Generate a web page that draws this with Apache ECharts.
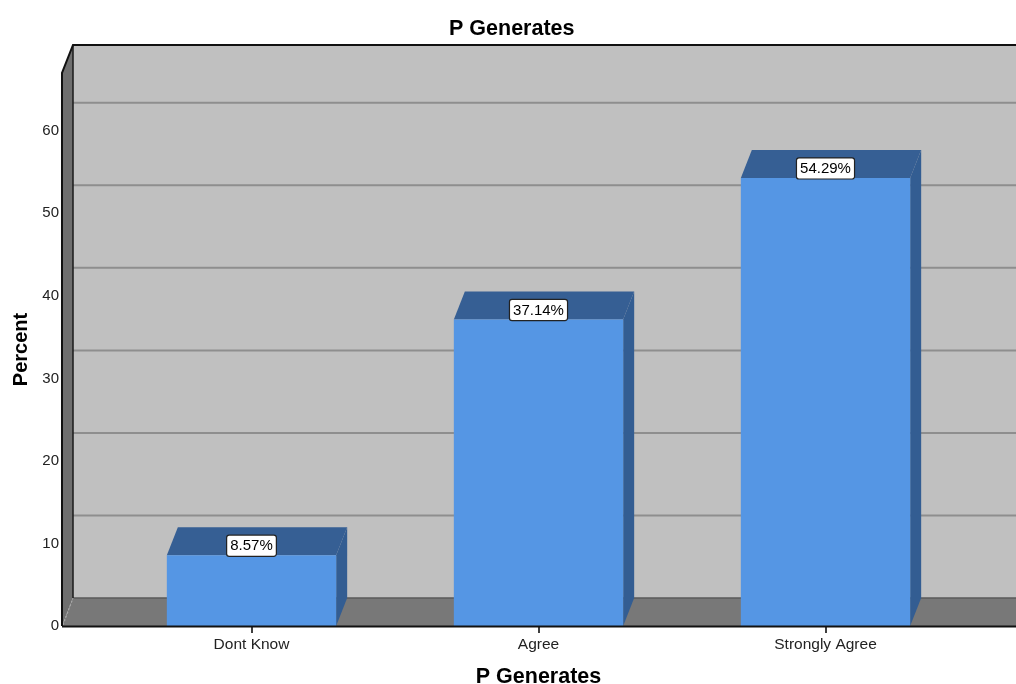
<!DOCTYPE html>
<html>
<head>
<meta charset="utf-8">
<script src="https://cdn.jsdelivr.net/npm/echarts@6/dist/echarts.min.js"></script>
<style>
  html, body { margin: 0; padding: 0; background: #ffffff; overflow: hidden; }
  #chart { width: 1016px; height: 684px; }
</style>
</head>
<body>
<div id="chart"></div>
<script>
// Response categories and their percentages
const categories = ['Dont Know', 'Agree', 'Strongly Agree'];
const percents = [8.57, 37.14, 54.29];
// Value-axis ticks (also used for the gridlines on the back wall)
const yTicks = [0, 10, 20, 30, 40, 50, 60];

// Pseudo-3D depth offset (pixels) of the back plane relative to the front plane
const DEPTH_X = 11;
const DEPTH_Y = -28;
const BAR_FRACTION = 0.59;   // bar width relative to category band
const WALL_LEFT_SHIFT = 46;  // left wall sits this far left of the category grid

const FONT = '"Liberation Sans", Arial, sans-serif';

const chart = echarts.init(document.getElementById('chart'), null,
  { renderer: 'canvas', width: 1016, height: 684 });

// Back wall, left wall, floor and gridlines
function renderFrame(params, api) {
  const cs = params.coordSys;
  const L = cs.x - WALL_LEFT_SHIFT;
  const R = api.getWidth() + 2;
  const y0 = api.coord([0, 0])[1];
  const top = cs.y;
  const dx = DEPTH_X, dy = DEPTH_Y;
  const children = [];

  children.push({ type: 'rect', shape: { x: L + dx, y: top + dy, width: R - L - dx, height: y0 - top },
    style: { fill: '#c0c0c0' } });

  yTicks.forEach(function (v) {
    if (v === 0) return;
    const y = api.coord([0, v])[1] + dy;
    children.push({ type: 'line', shape: { x1: L + dx, y1: y, x2: R, y2: y },
      style: { stroke: '#8e8e8e', lineWidth: 2 } });
  });

  children.push({ type: 'polygon', shape: { points: [[L, y0], [L, top], [L + dx, top + dy], [L + dx, y0 + dy]] },
    style: { fill: '#6f6f6f' } });

  children.push({ type: 'polygon', shape: { points: [[L, y0], [L + dx, y0 + dy], [R, y0 + dy], [R, y0]] },
    style: { fill: '#787878' } });

  children.push({ type: 'line', shape: { x1: L + dx, y1: y0 + dy, x2: R, y2: y0 + dy },
    style: { stroke: '#5a5a5a', lineWidth: 1.5 } });

  children.push({ type: 'line', shape: { x1: L + 1, y1: y0 - 1, x2: L + dx, y2: y0 + dy },
    style: { stroke: '#a8a8a8', lineWidth: 1.2, lineDash: [2, 2] } });

  children.push({ type: 'line', shape: { x1: L + dx, y1: top + dy, x2: L + dx, y2: y0 + dy },
    style: { stroke: '#1a1a1a', lineWidth: 1.5 } });

  children.push({ type: 'polyline', shape: { points: [[L, y0], [L, top], [L + dx, top + dy], [R, top + dy]] },
    style: { stroke: '#111111', lineWidth: 2, fill: null } });

  return { type: 'group', children: children };
}

// Front baseline drawn over the bar bottoms
function renderBaseline(params, api) {
  const cs = params.coordSys;
  const L = cs.x - WALL_LEFT_SHIFT;
  const R = api.getWidth() + 2;
  const y0 = api.coord([0, 0])[1];
  return { type: 'line', shape: { x1: L, y1: y0 + 0.5, x2: R, y2: y0 + 0.5 },
    style: { stroke: '#111111', lineWidth: 2 } };
}

// 3D-looking bar with value label
function renderBar(params, api) {
  const idx = api.value(0);
  const v = api.value(1);
  const pTop = api.coord([idx, v]);
  const y0 = api.coord([idx, 0])[1];
  const band = api.size([1, 0])[0];
  const w = band * BAR_FRACTION;
  const cx = pTop[0];
  const yt = pTop[1];
  const x1 = cx - w / 2, x2 = cx + w / 2;
  const dx = DEPTH_X, dy = DEPTH_Y;
  return {
    type: 'group',
    children: [
      { type: 'polygon', shape: { points: [[x2, yt], [x2 + dx, yt + dy], [x2 + dx, y0 + dy], [x2, y0]] },
        style: { fill: '#335d92' } },
      { type: 'polygon', shape: { points: [[x1, yt], [x1 + dx, yt + dy], [x2 + dx, yt + dy], [x2, yt]] },
        style: { fill: '#365f94' } },
      { type: 'rect', shape: { x: x1, y: yt, width: w, height: y0 - yt },
        style: { fill: '#5596e4' } },
      { type: 'text', x: cx, y: yt + 0.5,
        style: {
          text: v.toFixed(2) + '%',
          align: 'center', verticalAlign: 'bottom',
          font: '15px ' + FONT, fill: '#000000',
          backgroundColor: '#ffffff', borderColor: '#222222', borderWidth: 1.2, borderRadius: 2,
          padding: [3, 3, 2, 3]
        } }
    ]
  };
}

const option = {
  animation: false,
  backgroundColor: '#ffffff',
  title: {
    text: 'P Generates',
    left: 444,
    top: 13,
    textStyle: { fontFamily: FONT, fontSize: 21.5, fontWeight: 'bold', color: '#000000' }
  },
  grid: { left: 108, right: 47, top: 73, bottom: 58, containLabel: false, outerBoundsMode: 'none' },
  xAxis: {
    type: 'category',
    data: categories,
    axisLine: { show: false },
    axisTick: { show: true, alignWithLabel: true, length: 7, lineStyle: { color: '#000000', width: 1.5 } },
    axisLabel: { margin: 11, fontFamily: FONT, fontSize: 15.5, color: '#222222' },
    splitLine: { show: false },
    name: 'P Generates',
    nameLocation: 'middle',
    nameGap: 40,
    nameTextStyle: { fontFamily: FONT, fontSize: 21.5, fontWeight: 'bold', color: '#000000' }
  },
  yAxis: {
    type: 'value',
    min: 0,
    max: 67,
    interval: 10,
    offset: WALL_LEFT_SHIFT,
    axisLine: { show: false },
    axisTick: { show: false },
    splitLine: { show: false },
    axisLabel: {
      margin: 3, fontFamily: FONT, fontSize: 15, color: '#222222', showMaxLabel: false,
      formatter: function (v) { return yTicks.indexOf(v) >= 0 ? String(v) : ''; }
    },
    name: 'Percent',
    nameLocation: 'middle',
    nameGap: 31,
    nameTextStyle: { fontFamily: FONT, fontSize: 20, fontWeight: 'bold', color: '#000000' }
  },
  series: [
    { type: 'custom', name: 'frame', renderItem: renderFrame, data: [[0, 0]], clip: false, silent: true, z: 1 },
    { type: 'custom', name: 'Percent', renderItem: renderBar,
      data: percents.map(function (v, i) { return [i, v]; }), clip: false, z: 2 },
    { type: 'custom', name: 'baseline', renderItem: renderBaseline, data: [[0, 0]], clip: false, silent: true, z: 3 }
  ]
};

chart.setOption(option);
</script>
</body>
</html>
